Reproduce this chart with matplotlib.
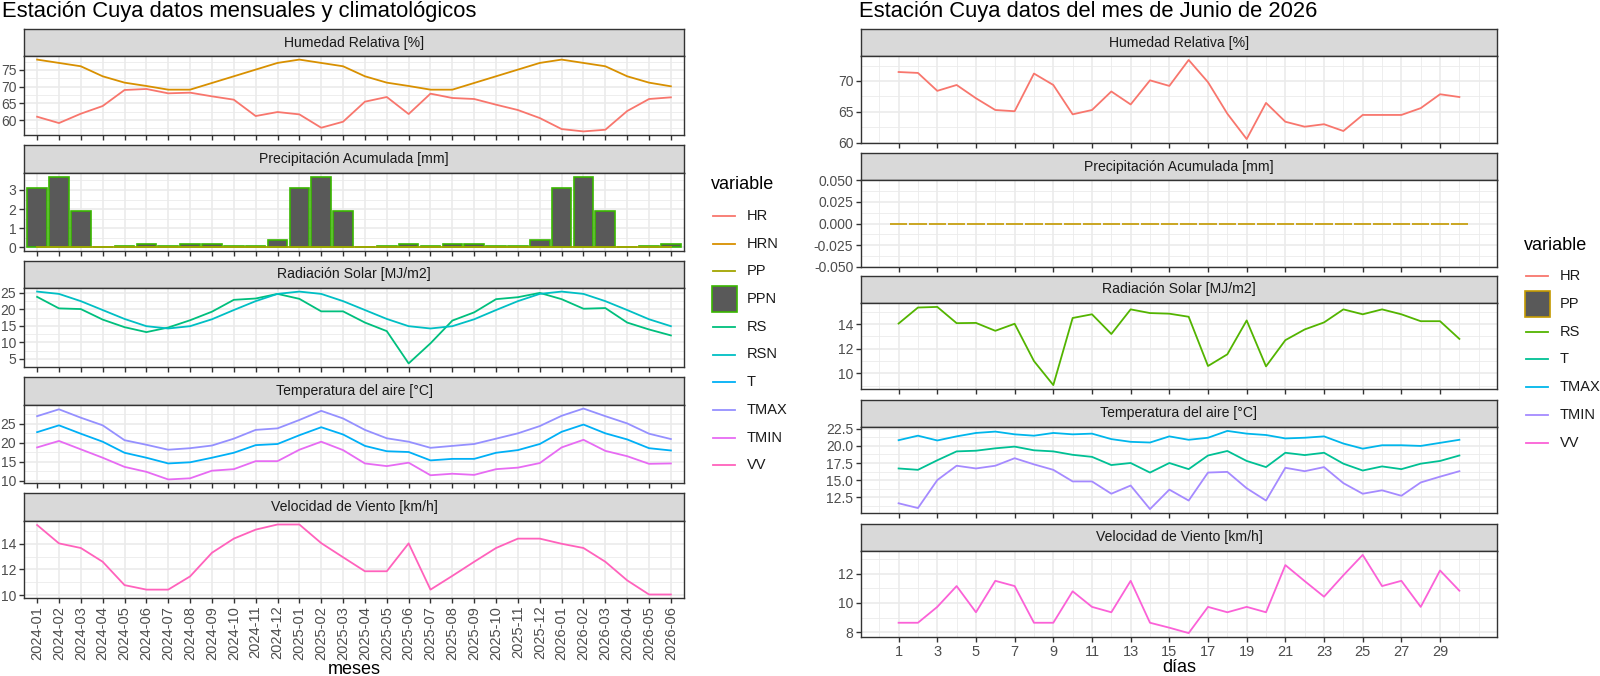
import numpy as np
import matplotlib
matplotlib.use('Agg')
import matplotlib.pyplot as plt
from matplotlib.lines import Line2D
from matplotlib.patches import Rectangle
from matplotlib.ticker import MultipleLocator, FixedLocator, FormatStrFormatter

plt.rcParams['font.family'] = ['Liberation Sans', 'DejaVu Sans']
plt.rcParams['axes.unicode_minus'] = False

# ---------------- monthly / climatological data ----------------
meses = ['2024-01', '2024-02', '2024-03', '2024-04', '2024-05', '2024-06', '2024-07', '2024-08',
         '2024-09', '2024-10', '2024-11', '2024-12', '2025-01', '2025-02', '2025-03', '2025-04',
         '2025-05', '2025-06', '2025-07', '2025-08', '2025-09', '2025-10', '2025-11', '2025-12',
         '2026-01', '2026-02', '2026-03', '2026-04', '2026-05', '2026-06']
HR = [61.0, 59.1, 61.9, 64.2, 69.0, 69.3, 68.0, 68.2, 67.1, 66.1, 61.2, 62.4, 61.7, 57.7, 59.5,
      65.5, 66.9, 61.8, 67.9, 66.6, 66.3, 64.6, 63.0, 60.6, 57.3, 56.6, 57.1, 62.7, 66.3, 66.8]
HRN = [78.1, 77.1, 76.1, 73.1, 71.2, 70.2, 69.1, 69.1, 71.1, 73.1, 75.1, 77.1, 78.1, 77.1, 76.1,
       73.1, 71.2, 70.2, 69.1, 69.1, 71.1, 73.1, 75.1, 77.1, 78.1, 77.1, 76.1, 73.1, 71.2, 70.1]
PP = [0.0] * 30
PPN = [3.1, 3.7, 1.9, 0.0, 0.1, 0.2, 0.1, 0.2, 0.2, 0.1, 0.1, 0.4, 3.1, 3.7, 1.9,
       0.0, 0.1, 0.2, 0.1, 0.2, 0.2, 0.1, 0.1, 0.4, 3.1, 3.7, 1.9, 0.0, 0.1, 0.2]
RS = [23.8, 20.3, 20.1, 16.9, 14.6, 13.1, 14.5, 16.7, 19.3, 22.9, 23.3, 24.7, 23.2, 19.4, 19.4,
      16.0, 13.4, 3.6, 9.7, 16.6, 19.1, 23.1, 23.7, 25.0, 23.1, 20.2, 20.4, 16.0, 13.9, 12.1]
RSN = [25.4, 24.7, 22.5, 19.8, 17.1, 14.9, 14.2, 14.9, 17.0, 19.8, 22.5, 24.7, 25.4, 24.7, 22.5,
       19.8, 17.1, 14.9, 14.2, 14.9, 17.0, 19.8, 22.5, 24.7, 25.4, 24.7, 22.5, 19.8, 17.0, 14.9]
T = [22.8, 24.6, 22.4, 20.3, 17.4, 16.1, 14.6, 14.9, 16.1, 17.4, 19.4, 19.7, 22.0, 24.1, 22.2,
     19.2, 17.8, 17.6, 15.4, 15.8, 15.8, 17.4, 18.1, 19.7, 22.9, 24.8, 22.5, 20.9, 18.6, 18.0]
TMAX = [27.0, 28.8, 26.6, 24.6, 20.7, 19.5, 18.2, 18.6, 19.3, 21.1, 23.4, 23.8, 26.0, 28.4, 26.4,
        23.4, 21.2, 20.3, 18.7, 19.2, 19.7, 21.1, 22.5, 24.4, 27.1, 29.0, 27.0, 25.1, 22.4, 21.0]
TMIN = [18.8, 20.5, 18.3, 16.1, 13.7, 12.4, 10.4, 10.7, 12.7, 13.1, 15.2, 15.2, 18.2, 20.3, 18.1,
        14.6, 13.9, 14.8, 11.5, 11.9, 11.6, 13.1, 13.5, 14.7, 18.8, 20.8, 17.9, 16.5, 14.5, 14.6]
VV = [15.46, 14.03, 13.67, 12.6, 10.78, 10.43, 10.43, 11.46, 13.3, 14.4, 15.1, 15.5, 15.5, 14.05,
      12.95, 11.86, 11.86, 14.03, 10.43, 11.5, 12.6, 13.67, 14.4, 14.4, 14.0, 13.67, 12.6, 11.15,
      10.05, 10.05]

# ---------------- daily data, June 2026 ----------------
dias = list(range(1, 31))
HR_d = [71.45, 71.3, 68.4, 69.35, 67.2, 65.3, 65.1, 71.2, 69.35, 64.6, 65.3, 68.3, 66.2, 70.1, 69.2,
        73.4, 69.8, 64.7, 60.6, 66.45, 63.4, 62.6, 63.0, 61.9, 64.5, 64.5, 64.5, 65.6, 67.85, 67.4]
PP_d = [0.0] * 30
RS_d = [14.05, 15.35, 15.4, 14.08, 14.1, 13.46, 14.03, 11.0, 9.05, 14.5, 14.8, 13.2, 15.2, 14.9, 14.85,
        14.6, 10.6, 11.55, 14.3, 10.57, 12.7, 13.57, 14.14, 15.2, 14.8, 15.2, 14.8, 14.24, 14.24, 12.8]
T_d = [16.7, 16.5, 17.9, 19.2, 19.3, 19.65, 19.9, 19.36, 19.2, 18.7, 18.4, 17.2, 17.5, 16.1, 17.5,
       16.6, 18.6, 19.26, 17.8, 16.9, 19.0, 18.66, 19.0, 17.4, 16.4, 17.0, 16.6, 17.4, 17.8, 18.6]
TMAX_d = [20.84, 21.5, 20.8, 21.4, 21.9, 22.1, 21.7, 21.5, 21.9, 21.7, 21.8, 21.0, 20.6, 20.5, 21.4,
          20.9, 21.2, 22.2, 21.8, 21.6, 21.1, 21.2, 21.4, 20.35, 19.6, 20.1, 20.1, 20.0, 20.45, 20.9]
TMIN_d = [11.6, 10.9, 15.0, 17.1, 16.7, 17.1, 18.2, 17.3, 16.5, 14.8, 14.8, 13.0, 14.2, 10.75, 13.6,
          12.0, 16.1, 16.2, 13.8, 12.0, 16.8, 16.3, 16.9, 14.55, 13.0, 13.5, 12.7, 14.65, 15.5, 16.3]
VV_d = [8.64, 8.64, 9.73, 11.16, 9.36, 11.52, 11.16, 8.64, 8.64, 10.8, 9.73, 9.36, 11.52, 8.64, 8.3,
        7.93, 9.73, 9.36, 9.73, 9.36, 12.6, 11.5, 10.43, 11.9, 13.3, 11.16, 11.52, 9.73, 12.23, 10.84]

strips = ['Humedad Relativa [%]', 'Precipitación Acumulada [mm]', 'Radiación Solar [MJ/m2]',
          'Temperatura del aire [°C]', 'Velocidad de Viento [km/h]']

col_left = {'HR': '#F8766D', 'HRN': '#D89000', 'PP': '#A3A500', 'PPN': '#39B600', 'RS': '#00BF7D',
            'RSN': '#00BFC4', 'T': '#00B0F6', 'TMAX': '#9590FF', 'TMIN': '#E76BF3', 'VV': '#FF62BC'}
col_right = {'HR': '#F8766D', 'PP': '#C49A00', 'RS': '#53B400', 'T': '#00C094',
             'TMAX': '#00B6EB', 'TMIN': '#A58AFF', 'VV': '#FB61D7'}

W, H = 1600, 676
fig = plt.figure(figsize=(16, 6.76), dpi=100)
LW = 1.3


def px_axes(x0, y0, x1, y1):
    return fig.add_axes([x0 / W, 1 - y1 / H, (x1 - x0) / W, (y1 - y0) / H])


def strip(x0, x1, y0, y1, text):
    s = px_axes(x0, y0, x1, y1)
    s.set_facecolor('#D9D9D9')
    s.set_xticks([])
    s.set_yticks([])
    for sp in s.spines.values():
        sp.set_color('#333333')
        sp.set_linewidth(1.0)
    s.text(0.5, 0.5, text, ha='center', va='center', fontsize=10.1, color='#1A1A1A',
           transform=s.transAxes)


def panel(x0, x1, y0, y1, major, minor):
    ax = px_axes(x0, y0, x1, y1)
    for sp in ax.spines.values():
        sp.set_color('#333333')
        sp.set_linewidth(1.0)
    ax.yaxis.set_major_locator(MultipleLocator(major))
    ax.yaxis.set_minor_locator(MultipleLocator(minor))
    ax.grid(which='major', color='#EBEBEB', lw=1.2)
    ax.grid(which='minor', axis='y', color='#EBEBEB', lw=0.6)
    ax.set_axisbelow(True)
    ax.tick_params(which='major', colors='#333333', labelcolor='#4D4D4D', labelsize=10,
                   length=3.5, width=1.0, pad=2)
    ax.tick_params(which='minor', length=0)
    return ax


def auto_ylim(ax, *series):
    vals = np.concatenate([np.asarray(s, dtype=float) for s in series])
    lo, hi = vals.min(), vals.max()
    pad = 0.05 * (hi - lo)
    ax.set_ylim(lo - pad, hi + pad)


# ---------------- left facet (monthly) ----------------
LX0, LX1 = 24, 684
left_rows = [(29, 56, 135), (145, 173, 251), (261, 288, 367), (377, 405, 483), (493, 521, 598)]
left_ticks = [(5, 2.5), (1, 0.5), (5, 2.5), (5, 2.5), (2, 1)]
xm = np.arange(1, len(meses) + 1)

left_axes = []
for (st, pt, pb), txt, (mj, mn) in zip(left_rows, strips, left_ticks):
    strip(LX0, LX1, st, pt, txt)
    ax = panel(LX0, LX1, pt, pb, mj, mn)
    ax.set_xlim(0.4, len(meses) + 0.6)
    ax.set_xticks(xm)
    ax.set_xticklabels([])
    left_axes.append(ax)

a = left_axes[0]
a.plot(xm, HR, color=col_left['HR'], lw=LW)
a.plot(xm, HRN, color=col_left['HRN'], lw=LW)
auto_ylim(a, HR, HRN)

a = left_axes[1]
a.bar(xm, PPN, width=0.9, color='#595959', edgecolor=col_left['PPN'], lw=1.2)
a.plot(xm, PP, color=col_left['PP'], lw=LW)
auto_ylim(a, PPN, PP)

a = left_axes[2]
a.plot(xm, RS, color=col_left['RS'], lw=LW)
a.plot(xm, RSN, color=col_left['RSN'], lw=LW)
auto_ylim(a, RS, RSN)

a = left_axes[3]
a.plot(xm, T, color=col_left['T'], lw=LW)
a.plot(xm, TMAX, color=col_left['TMAX'], lw=LW)
a.plot(xm, TMIN, color=col_left['TMIN'], lw=LW)
auto_ylim(a, T, TMAX, TMIN)

a = left_axes[4]
a.plot(xm, VV, color=col_left['VV'], lw=LW)
auto_ylim(a, VV)
a.set_xticklabels(meses, rotation=90, fontsize=10.5, color='#4D4D4D')

fig.text(2 / W, 1 - 11 / H, 'Estación Cuya datos mensuales y climatológicos', fontsize=15.8,
         ha='left', va='center')
fig.text((LX0 + LX1) / 2 / W, 1 - 670 / H, 'meses', fontsize=13, ha='center', va='center')

# ---------------- right facet (daily) ----------------
RX0, RX1 = 861, 1497
right_rows = [(29, 56, 143), (153, 180, 267), (276, 303, 389), (400, 427, 513), (524, 551, 637)]
right_ticks = [(5, 2.5), (0.025, 0.0125), (2, 1), (2.5, 1.25), (2, 1)]
xd = np.array(dias)

right_axes = []
for (st, pt, pb), txt, (mj, mn) in zip(right_rows, strips, right_ticks):
    strip(RX0, RX1, st, pt, txt)
    ax = panel(RX0, RX1, pt, pb, mj, mn)
    ax.set_xlim(-0.945, 31.945)
    ax.set_xticks(np.arange(1, 30, 2))
    ax.xaxis.set_minor_locator(FixedLocator(list(range(0, 31, 2)) + [31]))
    ax.grid(which='minor', axis='x', color='#EBEBEB', lw=0.6)
    ax.set_xticklabels([])
    right_axes.append(ax)

a = right_axes[0]
a.plot(xd, HR_d, color=col_right['HR'], lw=LW)
auto_ylim(a, HR_d)

a = right_axes[1]
a.bar(xd, PP_d, width=0.9, color='#595959', edgecolor=col_right['PP'], lw=1.2)
a.set_ylim(-0.05, 0.05)
a.yaxis.set_major_formatter(FormatStrFormatter('%.3f'))

a = right_axes[2]
a.plot(xd, RS_d, color=col_right['RS'], lw=LW)
auto_ylim(a, RS_d)

a = right_axes[3]
a.plot(xd, T_d, color=col_right['T'], lw=LW)
a.plot(xd, TMAX_d, color=col_right['TMAX'], lw=LW)
a.plot(xd, TMIN_d, color=col_right['TMIN'], lw=LW)
auto_ylim(a, T_d, TMAX_d, TMIN_d)
a.yaxis.set_major_formatter(FormatStrFormatter('%.1f'))

a = right_axes[4]
a.plot(xd, VV_d, color=col_right['VV'], lw=LW)
auto_ylim(a, VV_d)
a.set_xticklabels([str(d) for d in range(1, 30, 2)], fontsize=10.5, color='#4D4D4D')

fig.text(859 / W, 1 - 11 / H, 'Estación Cuya datos del mes de Junio de 2026', fontsize=15.8,
         ha='left', va='center')
fig.text((RX0 + RX1) / 2 / W, 1 - 668 / H, 'días', fontsize=13, ha='center', va='center')


# ---------------- legends ----------------
def legend(x, y_title, y_first, step, colors, bar_key, bar_edge):
    fig.text(x / W, 1 - y_title / H, 'variable', fontsize=13, ha='left', va='center')
    for i, (name, c) in enumerate(colors.items()):
        y = y_first + i * step
        if name == bar_key:
            fig.add_artist(Rectangle(((x + 1) / W, 1 - (y + 13) / H), 25 / W, 26 / H,
                                     facecolor='#595959', edgecolor=bar_edge, lw=1.2,
                                     transform=fig.transFigure))
        else:
            fig.add_artist(Line2D([(x + 2) / W, (x + 24) / W], [1 - y / H, 1 - y / H],
                                  color=c, lw=LW, transform=fig.transFigure))
        fig.text((x + 36) / W, 1 - y / H, name, fontsize=10.5, ha='left', va='center',
                 color='#1A1A1A')


legend(711, 184, 216, 27.7, col_left, 'PPN', col_left['PPN'])
legend(1524, 245, 276, 27.8, col_right, 'PP', col_right['PP'])

fig.savefig('out.png', dpi=100)
